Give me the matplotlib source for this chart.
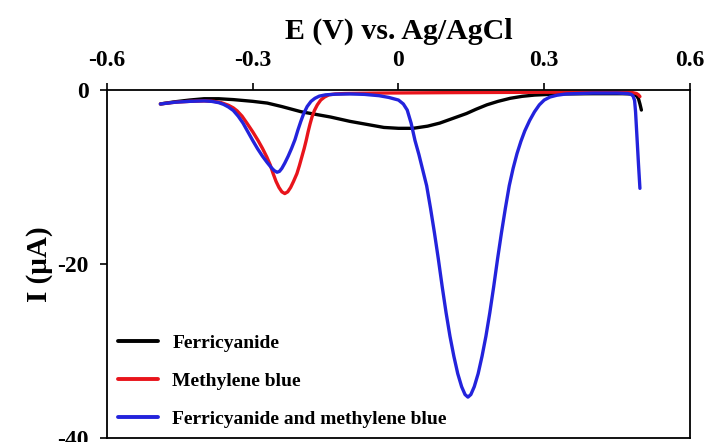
import matplotlib
matplotlib.use("Agg")
import matplotlib.pyplot as plt

plt.rcParams['font.family'] = ['Liberation Serif', 'DejaVu Serif']
plt.rcParams['font.weight'] = 'bold'

# potential (V vs Ag/AgCl) and current (uA) read for each scan
e_ferri = [-0.49, -0.46, -0.43, -0.40, -0.37, -0.34, -0.30, -0.27, -0.24, -0.20,
           -0.17, -0.14, -0.10, -0.06, -0.03, 0.00, 0.03, 0.06, 0.085, 0.11,
           0.14, 0.16, 0.182, 0.205, 0.23, 0.255, 0.28, 0.33, 0.40, 0.46,
           0.482, 0.490, 0.494, 0.497, 0.500]
i_ferri = [-1.6, -1.35, -1.15, -1.0, -1.0, -1.1, -1.3, -1.5, -1.9, -2.5,
           -2.8, -3.1, -3.6, -4.0, -4.3, -4.4, -4.4, -4.15, -3.8, -3.3,
           -2.7, -2.2, -1.7, -1.3, -0.95, -0.72, -0.58, -0.45, -0.42, -0.42,
           -0.45, -0.65, -1.0, -1.6, -2.3]

e_mb = [-0.49, -0.46, -0.43, -0.40, -0.38, -0.365, -0.35, -0.34, -0.332, -0.322,
        -0.312, -0.30, -0.289, -0.28, -0.271, -0.264, -0.258, -0.252, -0.246, -0.240,
        -0.234, -0.228, -0.222, -0.216, -0.209, -0.204, -0.199, -0.194, -0.190, -0.186,
        -0.182, -0.178, -0.173, -0.167, -0.160, -0.152, -0.143, -0.13, -0.11, -0.05,
        0.10, 0.30, 0.45, 0.482, 0.490, 0.494, 0.497]
i_mb = [-1.6, -1.4, -1.3, -1.25, -1.3, -1.45, -1.75, -2.05, -2.4, -3.0,
        -3.8, -4.8, -5.8, -6.7, -7.7, -8.6, -9.6, -10.5, -11.2, -11.7,
        -11.9, -11.7, -11.2, -10.5, -9.6, -8.7, -7.7, -6.7, -5.8, -4.8,
        -3.9, -3.1, -2.35, -1.7, -1.15, -0.8, -0.55, -0.45, -0.4, -0.35,
        -0.3, -0.25, -0.25, -0.3, -0.4, -0.55, -0.75]

e_both = [-0.49, -0.46, -0.43, -0.40, -0.385, -0.37, -0.36, -0.35, -0.34, -0.33,
          -0.32, -0.31, -0.30, -0.29, -0.28, -0.27, -0.262, -0.256, -0.250, -0.245,
          -0.240, -0.234, -0.227, -0.220, -0.213, -0.207, -0.201, -0.195, -0.188, -0.180,
          -0.172, -0.163, -0.150, -0.13, -0.10, -0.07, -0.04, -0.02, 0.000, 0.010,
          0.018, 0.026, 0.034, 0.042, 0.050, 0.058, 0.066, 0.074, 0.082, 0.090,
          0.098, 0.106, 0.114, 0.122, 0.130, 0.137, 0.143, 0.149, 0.156, 0.164,
          0.172, 0.180, 0.188, 0.196, 0.204, 0.212, 0.220, 0.228, 0.236, 0.244,
          0.252, 0.260, 0.270, 0.280, 0.290, 0.300, 0.312, 0.326, 0.345, 0.37,
          0.40, 0.45, 0.472, 0.479, 0.483, 0.486, 0.488, 0.491, 0.494, 0.497]
i_both = [-1.6, -1.4, -1.3, -1.25, -1.3, -1.45, -1.65, -1.95, -2.35, -3.0,
          -3.8, -4.8, -5.8, -6.75, -7.6, -8.35, -8.9, -9.25, -9.45, -9.35,
          -9.0, -8.4, -7.6, -6.7, -5.7, -4.6, -3.6, -2.7, -1.9, -1.3,
          -0.95, -0.7, -0.55, -0.48, -0.45, -0.5, -0.65, -0.85, -1.15, -1.6,
          -2.3, -3.8, -5.8, -7.4, -9.2, -11.0, -13.6, -16.4, -19.4, -22.6,
          -25.6, -28.3, -30.6, -32.6, -34.1, -35.0, -35.3, -35.0, -34.1, -32.6,
          -30.6, -28.3, -25.6, -22.6, -19.4, -16.4, -13.6, -11.0, -9.0, -7.3,
          -5.9, -4.7, -3.5, -2.5, -1.7, -1.15, -0.8, -0.6, -0.45, -0.4,
          -0.35, -0.35, -0.4, -0.5, -0.7, -1.2, -2.5, -5.5, -8.5, -11.3]

labels = ['Ferricyanide', 'Methylene blue', 'Ferricyanide and methylene blue']
colors = ['#000000', '#e8141b', '#2323dc']

fig = plt.figure(figsize=(7.17, 4.42), dpi=100)
ax = fig.add_axes([0.1492, 0.0090, 0.8131, 0.7873])

ax.plot(e_ferri, i_ferri, '-', color=colors[0], lw=2.4, label=labels[0],
        solid_joinstyle='round', solid_capstyle='round')
ax.plot(e_mb, i_mb, '-', color=colors[1], lw=2.4, label=labels[1],
        solid_joinstyle='round', solid_capstyle='round')
ax.plot(e_both, i_both, '-', color=colors[2], lw=2.4, label=labels[2],
        solid_joinstyle='round', solid_capstyle='round')

ax.set_xlim(-0.6, 0.6)
ax.set_ylim(-40, 0)
ax.set_xticks([-0.6, -0.3, 0, 0.3, 0.6])
ax.set_xticklabels(['-0.6', '-0.3', '0', '0.3', '0.6'])
ax.set_yticks([0, -20, -40])
ax.set_yticklabels(['0', '-20', '-40'])

ax.xaxis.tick_top()
ax.xaxis.set_label_position('top')
ax.tick_params(axis='x', direction='out', length=5, width=1.2, pad=9, labelsize=17)
ax.tick_params(axis='y', direction='out', length=5, width=1.2, pad=8, labelsize=17)
for s in ax.spines.values():
    s.set_linewidth(1.3)

ax.set_xlabel('E (V) vs. Ag/AgCl', fontsize=21.5, fontweight='bold', labelpad=8)
ax.set_ylabel('I (μA)', fontsize=21, fontweight='bold', labelpad=3)

leg = ax.legend(loc='lower left', bbox_to_anchor=(0.019, 0.03), frameon=False,
                fontsize=14, handlelength=2.05, handletextpad=0.75,
                labelspacing=1.05, borderpad=0, borderaxespad=0)
for h in leg.get_lines():
    h.set_linewidth(2.8)

fig.savefig('out.png', dpi=100)
